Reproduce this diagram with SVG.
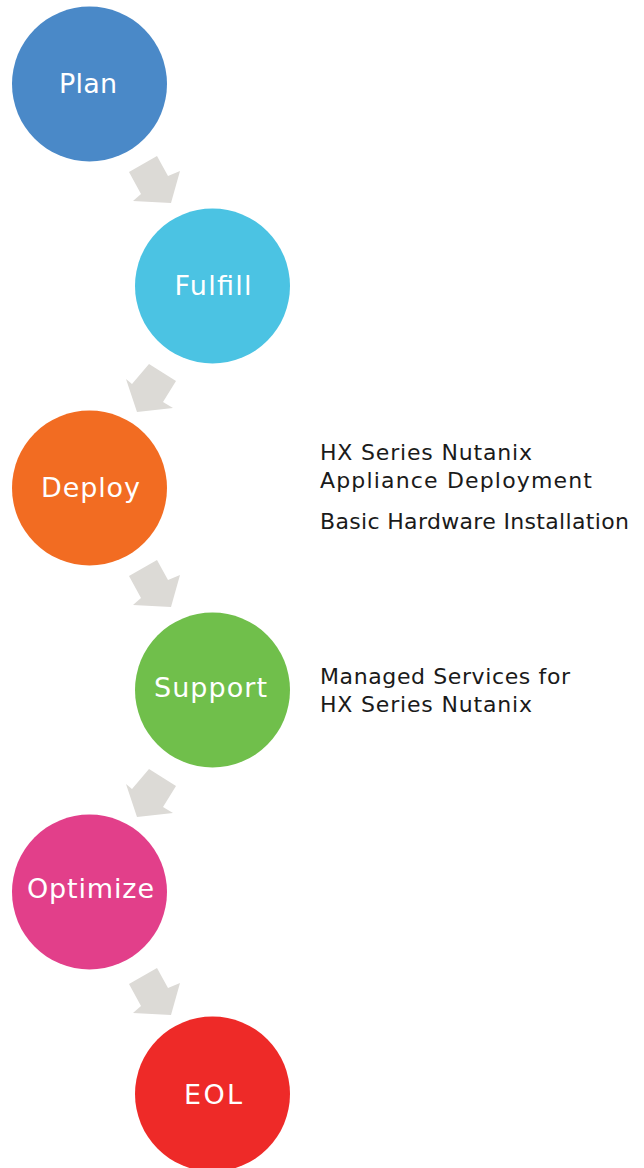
<svg xmlns="http://www.w3.org/2000/svg" width="644" height="1168" viewBox="0 0 644 1168">
<style>
.lbl{font-family:"DejaVu Sans","Liberation Sans",sans-serif;font-size:27px;fill:#ffffff;text-anchor:middle}
.note{font-family:"DejaVu Sans","Liberation Sans",sans-serif;font-size:22px;fill:#1a1a1a}
.arr{fill:#dcdad6}
</style>
<defs>
<polygon id="arrR" points="129,172 157,156 168,176 180,171 171,203 133,201 141,194"/>
<polygon id="arrL" points="149,364 176,381 163,402 173,408 137,412 126,379 132,384"/>
</defs>
<rect width="644" height="1168" fill="#ffffff"/>
<g id="connectors" class="arr">
<use href="#arrR"/>
<use href="#arrL"/>
<use href="#arrR" transform="translate(0,404)"/>
<use href="#arrL" transform="translate(0,405)"/>
<use href="#arrR" transform="translate(0,812)"/>
</g>
<g id="plan"><circle cx="89.5" cy="84" r="77.5" fill="#4a89c8"/><text class="lbl" x="88" y="93" textLength="58" lengthAdjust="spacing">Plan</text></g>
<g id="fulfill"><circle cx="212.5" cy="286" r="77.5" fill="#4bc3e3"/><text class="lbl" x="213" y="295" textLength="77" lengthAdjust="spacing">Fulfill</text></g>
<g id="deploy"><circle cx="89.5" cy="488" r="77.5" fill="#f26c22"/><text class="lbl" x="90.5" y="497" textLength="99" lengthAdjust="spacing">Deploy</text></g>
<g id="support"><circle cx="212.5" cy="690" r="77.5" fill="#70bf4b"/><text class="lbl" x="210.5" y="697" textLength="113" lengthAdjust="spacing">Support</text></g>
<g id="optimize"><circle cx="89.5" cy="892" r="77.5" fill="#e23f8a"/><text class="lbl" x="90.5" y="898" textLength="127" lengthAdjust="spacing">Optimize</text></g>
<g id="eol"><circle cx="212.5" cy="1094" r="77.5" fill="#ee2a28"/><text class="lbl" x="213" y="1104" textLength="58" lengthAdjust="spacing">EOL</text></g>
<g id="deploy-notes">
<text class="note" x="320" y="460" textLength="212" lengthAdjust="spacing">HX Series Nutanix</text>
<text class="note" x="320" y="488" textLength="272" lengthAdjust="spacing">Appliance Deployment</text>
<text class="note" x="320" y="529" textLength="309" lengthAdjust="spacing">Basic Hardware Installation</text>
</g>
<g id="support-notes">
<text class="note" x="320" y="684" textLength="250" lengthAdjust="spacing">Managed Services for</text>
<text class="note" x="320" y="712" textLength="212" lengthAdjust="spacing">HX Series Nutanix</text>
</g>
</svg>
